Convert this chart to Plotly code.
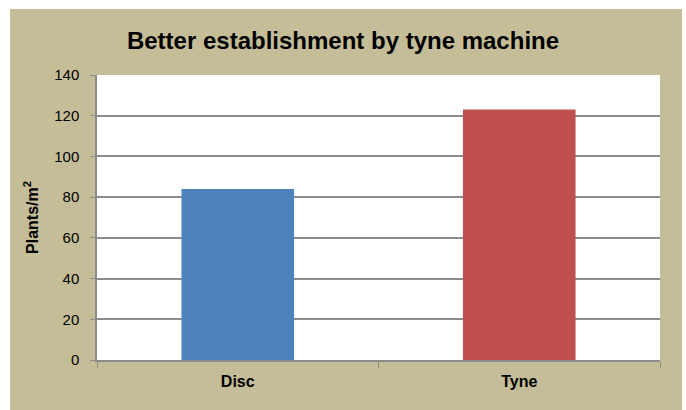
import plotly.graph_objects as go

# Plant establishment by seeding machine
machines = ["Disc", "Tyne"]
plants_per_m2 = [84, 123]
bar_colors = ["#4F81BD", "#C0504D"]
y_ticks = [0, 20, 40, 60, 80, 100, 120, 140]

W, H = 686, 410
L, R, T, B = 97, 26, 75, 50
pw, ph = W - L - R, H - T - B

def px_x(x):
    return (x - L) / pw

def px_y(y):
    return (H - B - y) / ph

fig = go.Figure(
    go.Bar(
        x=machines,
        y=plants_per_m2,
        marker=dict(color=bar_colors, line=dict(width=0)),
        width=0.4,
    )
)

# tan panel behind the chart, white plot area on top of it
fig.add_shape(type="rect", xref="paper", yref="paper",
              x0=px_x(10), x1=px_x(682), y0=px_y(410), y1=px_y(9),
              fillcolor="#C4BD97", line=dict(width=0), layer="below")
fig.add_shape(type="rect", xref="paper", yref="paper",
              x0=0, x1=1, y0=0, y1=1,
              fillcolor="white", line=dict(width=0), layer="below")

fig.update_layout(
    width=W, height=H,
    margin=dict(l=L, r=R, t=T, b=B),
    paper_bgcolor="white",
    plot_bgcolor="white",
    showlegend=False,
    font=dict(family="Liberation Sans, Arial, sans-serif", color="black"),
    title=dict(
        text="<b>Better establishment by tyne machine</b>",
        x=0.5, xanchor="center",
        y=1 - 41 / H, yanchor="middle", yref="container",
        font=dict(size=24, color="black"),
    ),
)

fig.update_xaxes(
    showline=True, linecolor="#8C8C8C", linewidth=1.5,
    ticks="outside", tickson="boundaries", ticklen=6, tickcolor="#8C8C8C",
    tickfont=dict(size=16, color="black"),
    ticklabelstandoff=6,
    tickprefix="<b>", ticksuffix="</b>",
    showgrid=False,
)

fig.update_yaxes(
    range=[0, 140],
    tickvals=y_ticks,
    showline=True, linecolor="#8C8C8C", linewidth=1.5,
    ticks="outside", ticklen=5, tickcolor="#8C8C8C",
    tickfont=dict(size=15, color="black"),
    ticklabelstandoff=8,
    showgrid=True, gridcolor="#8C8C8C", gridwidth=1.5,
    zeroline=False,
    title=dict(text="<b>Plants/m<sup>2</sup></b>", font=dict(size=16, color="black"),
               standoff=12),
)

fig.write_html("out.html")
